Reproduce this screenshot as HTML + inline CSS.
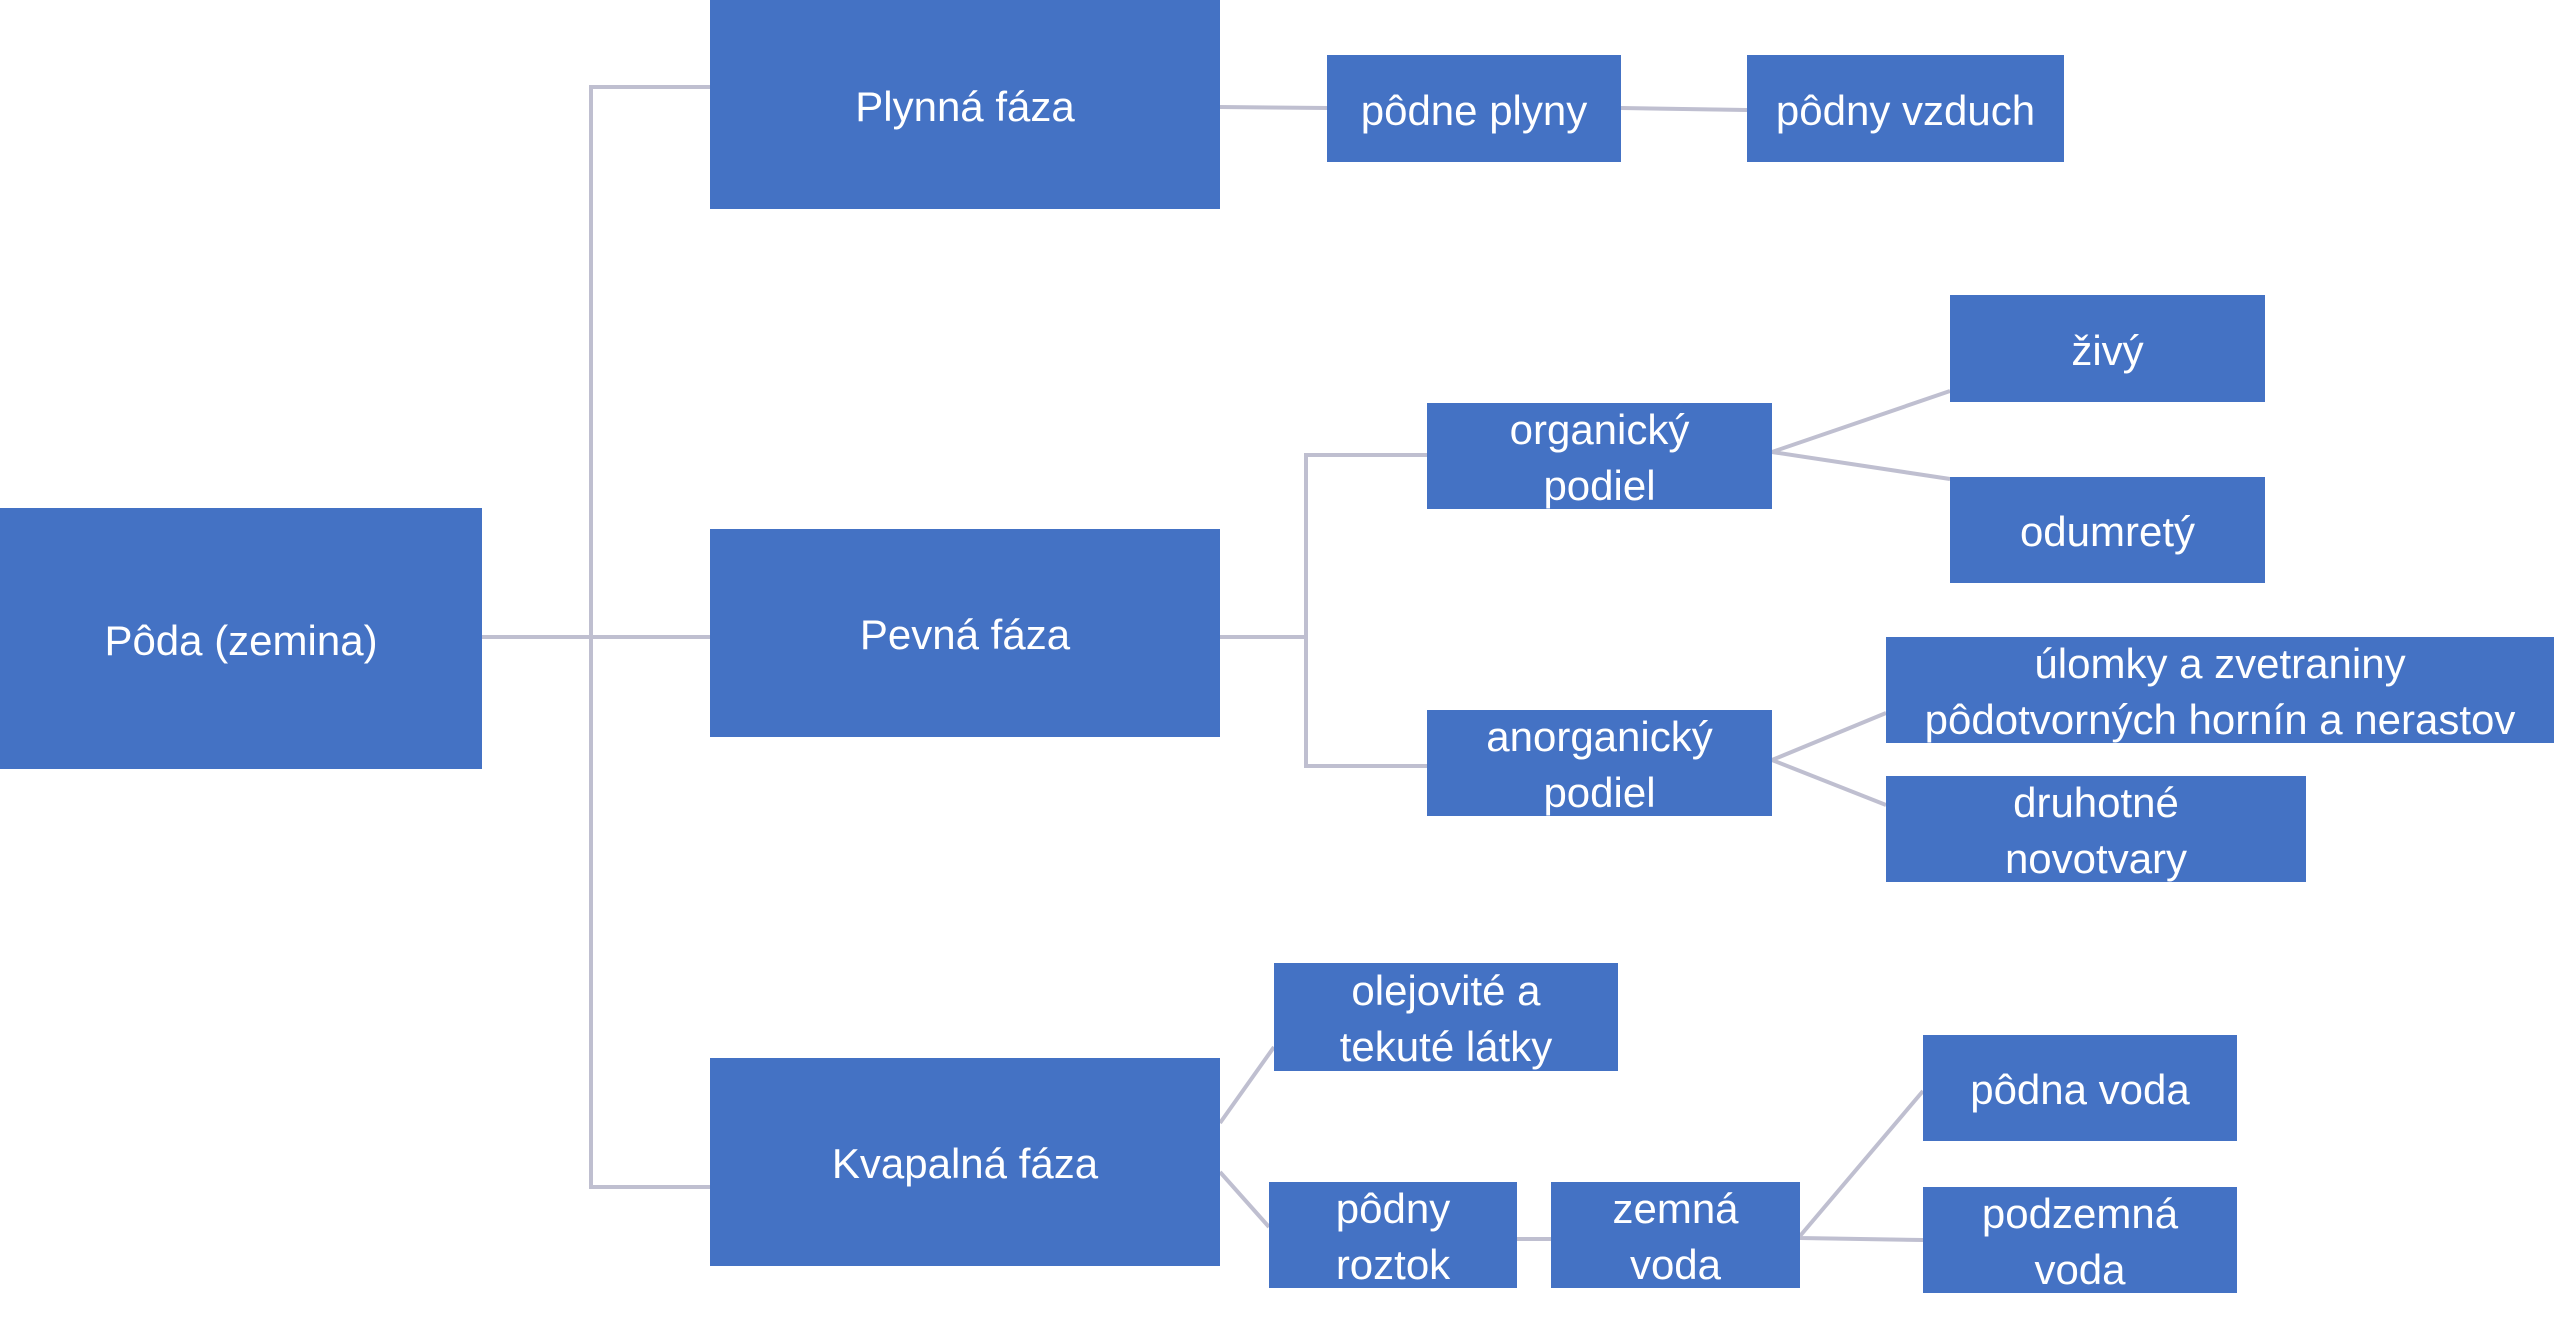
<!DOCTYPE html>
<html><head><meta charset="utf-8"><style>
body{margin:0;width:2560px;height:1330px;background:#fff;position:relative;overflow:hidden;font-family:"Liberation Sans",sans-serif}
.b{position:absolute;box-sizing:border-box;padding-top:4px;background:#4472C4;color:#fff;display:flex;align-items:center;justify-content:center;text-align:center;font-size:42px;line-height:56px}
svg{position:absolute;left:0;top:0}
</style></head><body>
<svg width="2560" height="1330"><g stroke="#BFBFD0" stroke-width="4" fill="none">
<path d="M482 637H710M710 87H591V1187H710"/>
<path d="M1220 107L1327 108M1621 108L1747 110"/>
<path d="M1220 637H1306M1427 455H1306V766H1427"/>
<path d="M1772 452L1950 391M1772 452L1950 479M1772 760L1886 713M1772 760L1886 805"/>
<path d="M1220 1123L1274 1047M1220 1172L1269 1227M1517 1239H1551M1800 1236L1923 1091M1800 1238L1923 1240"/>
</g></svg>
<div class="b" style="left:0;top:508px;width:482px;height:261px">Pôda (zemina)</div>
<div class="b" style="left:710px;top:0;width:510px;height:209px">Plynná fáza</div>
<div class="b" style="left:710px;top:529px;width:510px;height:208px">Pevná fáza</div>
<div class="b" style="left:710px;top:1058px;width:510px;height:208px">Kvapalná fáza</div>
<div class="b" style="left:1327px;top:55px;width:294px;height:107px">pôdne plyny</div>
<div class="b" style="left:1747px;top:55px;width:317px;height:107px">pôdny vzduch</div>
<div class="b" style="left:1427px;top:403px;width:345px;height:106px">organický<br>podiel</div>
<div class="b" style="left:1427px;top:710px;width:345px;height:106px">anorganický<br>podiel</div>
<div class="b" style="left:1950px;top:295px;width:315px;height:107px">živý</div>
<div class="b" style="left:1950px;top:477px;width:315px;height:106px">odumretý</div>
<div class="b" style="left:1886px;top:637px;width:668px;height:106px">úlomky a zvetraniny<br>pôdotvorných hornín a nerastov</div>
<div class="b" style="left:1886px;top:776px;width:420px;height:106px">druhotné<br>novotvary</div>
<div class="b" style="left:1274px;top:963px;width:344px;height:108px">olejovité a<br>tekuté látky</div>
<div class="b" style="left:1269px;top:1182px;width:248px;height:106px">pôdny<br>roztok</div>
<div class="b" style="left:1551px;top:1182px;width:249px;height:106px">zemná<br>voda</div>
<div class="b" style="left:1923px;top:1035px;width:314px;height:106px">pôdna voda</div>
<div class="b" style="left:1923px;top:1187px;width:314px;height:106px">podzemná<br>voda</div>
</body></html>
